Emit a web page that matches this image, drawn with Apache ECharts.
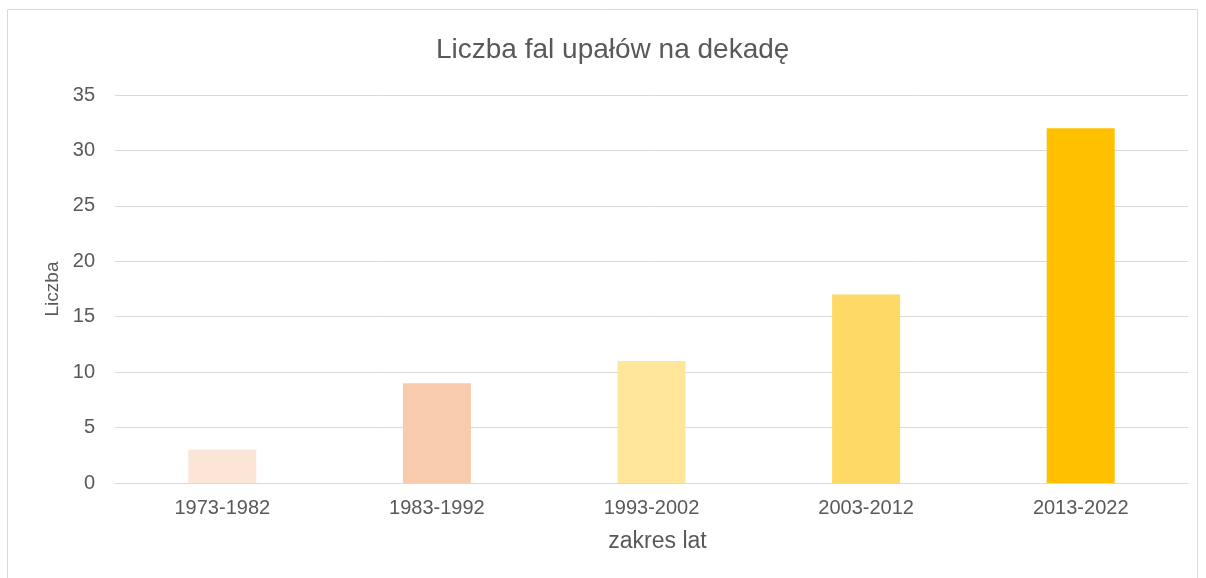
<!DOCTYPE html>
<html>
<head>
<meta charset="utf-8">
<script src="https://cdn.jsdelivr.net/npm/echarts@6/dist/echarts.min.js"></script>
<style>
  html, body { margin: 0; padding: 0; background: #fff; overflow: hidden; }
  #chart { width: 1206px; height: 578px; }
</style>
</head>
<body>
<div id="chart"></div>
<script>
const categories = ['1973-1982', '1983-1992', '1993-2002', '2003-2012', '2013-2022'];
const values = [3, 9, 11, 17, 32];
const barColors = ['#FBE5D6', '#F8CBAD', '#FFE699', '#FFD966', '#FFC000'];

const font = '"Liberation Sans", Arial, sans-serif';
const chart = echarts.init(document.getElementById('chart'));

chart.setOption({
    animation: false,
    textStyle: { fontFamily: font },
    graphic: [{
        type: 'rect',
        shape: { x: 7.5, y: 9.5, width: 1190, height: 580 },
        style: { fill: 'none', stroke: '#D9D9D9', lineWidth: 1 },
        silent: true
    }],
    title: {
        text: 'Liczba fal upałów na dekadę',
        left: 436,
        top: 36,
        padding: 0,
        textStyle: { fontFamily: font, fontSize: 28, fontWeight: 'normal', color: '#595959' }
    },
    grid: { left: 115, right: 18, top: 95, bottom: 95, containLabel: false },
    xAxis: {
        type: 'category',
        data: categories,
        name: 'zakres lat',
        nameLocation: 'middle',
        nameGap: 47,
        nameTextStyle: { fontFamily: font, fontSize: 23, color: '#595959', padding: [0, 0, 0, 12] },
        axisLine: { lineStyle: { color: '#D9D9D9', width: 1 } },
        axisTick: { show: false },
        axisLabel: { fontFamily: font, fontSize: 20, color: '#595959', margin: 15 }
    },
    yAxis: {
        type: 'value',
        min: 0,
        max: 35,
        interval: 5,
        name: 'Liczba',
        nameLocation: 'middle',
        nameGap: 52,
        nameTextStyle: { fontFamily: font, fontSize: 19, color: '#595959' },
        axisLine: { show: false },
        axisTick: { show: false },
        axisLabel: { fontFamily: font, fontSize: 20, color: '#595959', margin: 20 },
        splitLine: { lineStyle: { color: '#D9D9D9', width: 1 } }
    },
    series: [{
        type: 'bar',
        data: values.map((v, i) => ({ value: v, itemStyle: { color: barColors[i] } })),
        barWidth: 68
    }]
});
</script>
</body>
</html>
